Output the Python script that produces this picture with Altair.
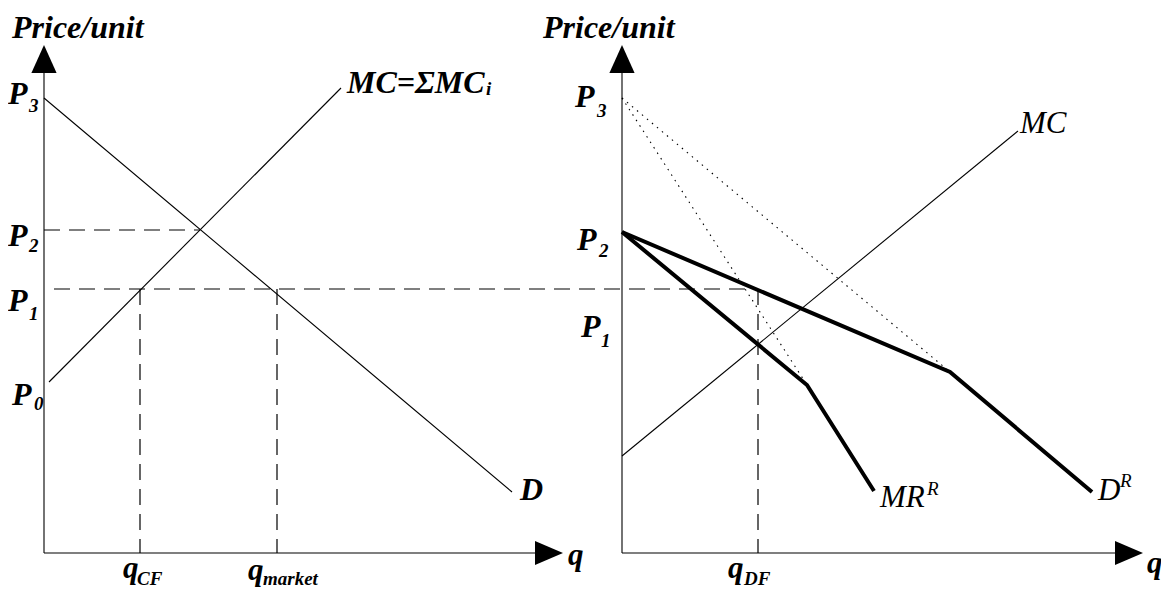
import altair as alt
import pandas as pd

# ---------------- Left panel: competitive market (diagram units, origin at axes corner) ----
D_Q = [0, 468]
D_P = [455, 61]
MC_Q = [5, 297]
MC_P = [171, 465]
P2_LEFT = 323
P2_LEFT_Q = 156          # where MC meets D
P1 = 264
Q_CF = 96
Q_MARKET = 233

# ---------------- Right panel: dominant firm -----------------------------------------------
RIGHT_OFFSET = 578
DR_Q = [0, 328, 470]
DR_P = [321, 181, 61]
MRR_Q = [0, 185, 252]
MRR_P = [321, 168, 62]
MCR_Q = [0, 396]
MCR_P = [97, 422]
P3_RIGHT = 455
Q_DF = 136

# ---------------- Axes extents --------------------------------------------------------------
AXIS_TOP = 508
AXIS_LEFT_END = 519
AXIS_RIGHT_END = 521

# ---------------- Labels --------------------------------------------------------------------
BOLD_TEXT = ["Price/unit", "Price/unit", "P", "P", "P", "P", "P", "P", "P",
             "MC=ΣMC", "D"]
BOLD_X = [-32, 499, -36, -36, -36, -32, 531, 533, 537, 303, 476]
BOLD_Y = [515, 515, 449, 307, 242, 148, 446, 303, 216, 460, 53]

Q_TEXT = ["q", "q", "q", "q", "q"]
Q_X = [79, 204, 684, 524, 1103]
Q_Y = [-25, -27, -25, -12, -20]

SUB_TEXT = ["3", "2", "1", "0", "3", "2", "1", "CF", "market", "DF", "i"]
SUB_X = [-15, -15, -15, -10, 553, 555, 557, 93, 219, 700, 442]
SUB_Y = [441, 301, 233, 143, 436, 296, 206, -32, -32, -32, 458]

ITAL_TEXT = ["MC", "MR", "D"]
ITAL_X = [976, 836, 1054]
ITAL_Y = [420, 46, 53]

SUP_TEXT = ["R", "R"]
SUP_X = [883, 1076]
SUP_Y = [58, 66]

FONT = "Liberation Serif"


def poly(rows, name, qs, ps, off=0):
    for i, (q, p) in enumerate(zip(qs, ps)):
        rows.append({"g": name, "o": i, "x": q + off, "y": p})


thin, thick, dashed, dotted = [], [], [], []
poly(thin, "D", D_Q, D_P)
poly(thin, "MC", MC_Q, MC_P)
poly(thin, "MCR", MCR_Q, MCR_P, RIGHT_OFFSET)
# axes
poly(thin, "ly", [0, 0], [0, AXIS_TOP - 20])
poly(thin, "lx", [0, AXIS_LEFT_END - 20], [0, 0])
poly(thin, "ry", [RIGHT_OFFSET, RIGHT_OFFSET], [0, AXIS_TOP - 20])
poly(thin, "rx", [RIGHT_OFFSET, RIGHT_OFFSET + AXIS_RIGHT_END - 20], [0, 0])

poly(thick, "DR", DR_Q, DR_P, RIGHT_OFFSET)
poly(thick, "MRR", MRR_Q, MRR_P, RIGHT_OFFSET)

poly(dashed, "p2", [0, P2_LEFT_Q], [P2_LEFT, P2_LEFT])
poly(dashed, "p1", [10, Q_DF + RIGHT_OFFSET], [P1, P1])
poly(dashed, "qcf", [Q_CF, Q_CF], [P1, 0])
poly(dashed, "qm", [Q_MARKET, Q_MARKET], [P1, 0])
poly(dashed, "qdf", [Q_DF + RIGHT_OFFSET, Q_DF + RIGHT_OFFSET], [P1, 0])

poly(dotted, "d1", [0, DR_Q[1]], [P3_RIGHT, DR_P[1]], RIGHT_OFFSET)
poly(dotted, "d2", [0, MRR_Q[1]], [P3_RIGHT, MRR_P[1]], RIGHT_OFFSET)

X = alt.X("x:Q", scale=alt.Scale(domain=[-36, 1117], nice=False, zero=False), axis=None)
Y = alt.Y("y:Q", scale=alt.Scale(domain=[-37, 545], nice=False, zero=False), axis=None)


def line_layer(rows, **kw):
    return alt.Chart(pd.DataFrame(rows)).mark_line(color="black", **kw).encode(
        x=X, y=Y, detail="g:N", order="o:Q")


up = pd.DataFrame({"x": [0, RIGHT_OFFSET], "y": [AXIS_TOP, AXIS_TOP]})
right = pd.DataFrame({"x": [AXIS_LEFT_END, RIGHT_OFFSET + AXIS_RIGHT_END], "y": [0, 0]})

arrow_up = alt.Chart(up).mark_point(
    shape="M0,0L-0.45,1L0.45,1Z", size=3136, filled=True, color="black",
    opacity=1, strokeWidth=0).encode(x=X, y=Y)
arrow_right = alt.Chart(right).mark_point(
    shape="M0,0L-1,-0.43L-1,0.43Z", size=3136, filled=True, color="black",
    opacity=1, strokeWidth=0).encode(x=X, y=Y)


def text_layer(texts, xs, ys, size, style, weight):
    df = pd.DataFrame({"t": texts, "x": xs, "y": ys})
    return alt.Chart(df).mark_text(
        align="left", baseline="alphabetic", font=FONT, fontSize=size,
        fontStyle=style, fontWeight=weight, color="black").encode(
        x=X, y=Y, text="t:N")


chart = alt.layer(
    line_layer(dotted, strokeWidth=1.1, strokeDash=[1.5, 5]),
    line_layer(dashed, strokeWidth=1.2, strokeDash=[16, 9]),
    line_layer(thin, strokeWidth=1.1),
    line_layer(thick, strokeWidth=4, strokeJoin="miter"),
    arrow_up,
    arrow_right,
    text_layer(BOLD_TEXT, BOLD_X, BOLD_Y, 32, "italic", "bold"),
    text_layer(Q_TEXT, Q_X, Q_Y, 31, "italic", "bold"),
    text_layer(SUB_TEXT, SUB_X, SUB_Y, 19, "italic", "bold"),
    text_layer(ITAL_TEXT, ITAL_X, ITAL_Y, 31, "italic", "normal"),
    text_layer(SUP_TEXT, SUP_X, SUP_Y, 19, "italic", "normal"),
).properties(
    width=1153, height=582,
    autosize=alt.AutoSizeParams(type="none"), padding=0,
).configure_view(stroke=None)

chart.save("out.html", embed_options={"renderer": "svg", "actions": False})
